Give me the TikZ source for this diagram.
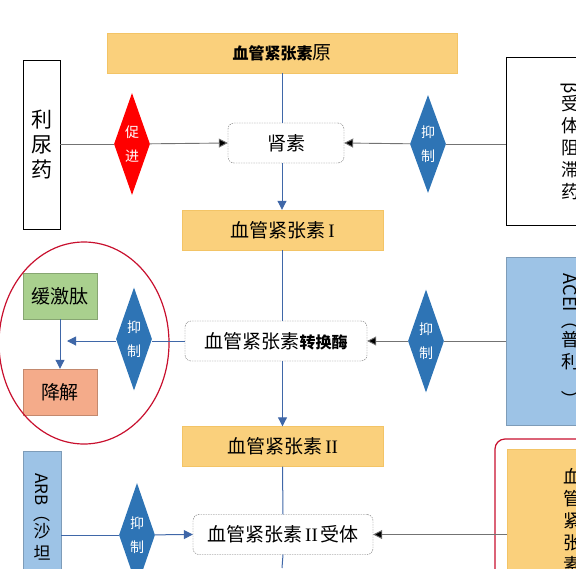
\documentclass[tikz,border=0pt]{standalone}
\usepackage{fontspec}
\setmainfont{Noto Sans CJK SC}
\newfontfamily\numfont{Liberation Serif}
\usetikzlibrary{shapes.geometric,arrows.meta}

\definecolor{boxorange}{HTML}{FAD07C}
\definecolor{edgeorange}{HTML}{F3C466}
\definecolor{drugblue}{HTML}{9DC3E6}
\definecolor{kingreen}{HTML}{A9D08E}
\definecolor{degsalmon}{HTML}{F4AB8A}
\definecolor{inhblue}{HTML}{2E74B5}
\definecolor{flowblue}{HTML}{3F67A8}
\definecolor{ringred}{HTML}{C8102E}

\begin{document}
\begin{tikzpicture}[x=1pt, y=-1pt,
    stage/.style={draw=edgeorange, fill=boxorange, minimum height=40pt, inner sep=0pt, font=\fontsize{19}{23}\selectfont},
    target/.style={draw=gray!85!black, fill=white, dash pattern=on 1.5pt off 1pt, rounded corners=6pt, minimum height=40pt, inner sep=0pt, font=\fontsize{19}{23}\selectfont},
    drug/.style={draw=black, thick, fill=white, inner sep=0pt, align=center, font=\fontsize{21}{25}\selectfont},
    druginh/.style={draw=drugblue!80!black, fill=drugblue, inner sep=0pt, align=center, font=\fontsize{18}{22}\selectfont},
    act/.style={diamond, shape aspect=0.35, inner sep=0pt, minimum width=36pt, minimum height=102pt, align=center, text=white, font=\fontsize{14}{24}\selectfont},
    side/.style={draw=#1!80!black, fill=#1, minimum width=74pt, minimum height=46pt, inner sep=0pt, font=\fontsize{19}{23}\selectfont},
    grayline/.style={draw=gray!90!black, line width=0.9pt},
    blueline/.style={draw=flowblue, line width=1pt},
    bluetip/.style={-{Triangle[length=9pt,width=9pt,color=flowblue]}}
  ]
  % --- 0. Frame ---
  \useasboundingbox (0,0) rectangle (576,568);
  \clip (0,0) rectangle (576,568);

  % --- 1. Main cascade ---
  \node[stage, minimum width=350pt] (precursor) at (282,53) {{\fontsize{16}{20}\selectfont\bfseries 血管紧张素}原};
  \node[target, minimum width=116pt] (renin) at (286,143) {肾素};
  \node[stage, minimum width=201pt] (angI) at (282.5,230) {血管紧张素\,{\numfont I}};
  \node[target, minimum width=182pt] (ace) at (276,341) {血管紧张素{\fontsize{16}{20}\selectfont\bfseries 转换酶}};
  \node[stage, minimum width=201pt] (angII) at (282.5,446.5) {血管紧张素\,{\numfont II}};
  \node[target, minimum width=180pt] (receptor) at (283,534.5) {血管紧张素\,{\numfont II}\,受体};
  \coordinate (flowend) at (282,568);

  \draw[blueline] (precursor.south) -- (precursor.south |- renin.north);
  \draw[blueline, bluetip] (precursor.south |- renin.south) -- (precursor.south |- angI.north);
  \draw[blueline] (angI.south) -- (angI.south |- ace.north);
  \draw[blueline, bluetip] (angI.south |- ace.south) -- (angII.north);
  \draw[blueline] (angII.south) -- (receptor.north);
  \draw[blueline] (receptor.south) -- (flowend);

  % --- 2. Renin row ---
  \node[drug, minimum width=37pt, minimum height=169pt] (diuretic) at (41.5,144.5) {利\\尿\\药};
  \node[act, fill=red] (promote) at (132,144) {促\\进};
  \node[drug, minimum width=128pt, minimum height=168pt, font=\fontsize{18}{22}\selectfont] (betablk) at (570,141) {\rotatebox{-90}{β}\\受\\体\\阻\\滞\\药};
  \node[act, fill=inhblue, minimum height=98pt] (reninInh) at (428,144) {抑\\制};

  \draw[grayline] (diuretic.east |- promote) -- (promote);
  \draw[grayline, -{Triangle[length=9pt,width=9pt,fill=black]}] (promote) -- (renin.west);
  \draw[grayline] (betablk.west |- reninInh) -- (reninInh);
  \draw[grayline, -{Triangle[length=9pt,width=9pt,fill=black]}] (reninInh) -- (renin.east);

  % --- 3. ACE row ---
  \node[druginh, minimum width=128pt, minimum height=168pt] (acei) at (570,341) {\rotatebox{-90}{ACEI（}\\普\\利\\\rotatebox{-90}{）}};
  \node[act, fill=inhblue, minimum height=103pt] (aceInh) at (426,341) {抑\\制};
  \node[act, fill=inhblue, minimum height=103pt] (kinInh) at (134,339) {抑\\制};
  \node[side=kingreen] (bradykinin) at (60,296) {缓激肽};
  \node[side=degsalmon] (degrade) at (60,392) {降解};
  \coordinate (kinend) at (67,341);
  \draw[ringred, line width=1.2pt] (84,343) ellipse (85pt and 101pt);

  \draw[grayline] (acei.west |- aceInh) -- (aceInh);
  \draw[grayline, -{Triangle[length=9pt,width=9pt,fill=black]}] (aceInh) -- (ace.east);
  \draw[blueline] (ace.west) -- (kinInh.east |- ace.west);
  \draw[blueline, bluetip] (kinInh.west |- ace.west) -- (kinend);
  \draw[blueline, bluetip] (bradykinin.south) -- (degrade.north);

  % --- 4. Receptor row ---
  \node[druginh, minimum width=38pt, minimum height=170pt, font=\fontsize{17}{22}\selectfont] (arb) at (42,536) {\rotatebox{-90}{ARB（}\\沙\\坦\\\rotatebox{-90}{）}};
  \node[act, fill=inhblue, minimum height=104pt] (arbInh) at (137,535) {抑\\制};
  \node[draw=ringred, line width=1.2pt, rounded corners=10pt, minimum width=160pt, minimum height=200pt] (arniframe) at (575,539) {};
  \node[stage, minimum width=130pt, minimum height=144pt, align=center, font=\fontsize{18}{22}\selectfont] (arnibox) at (572,521) {血\\管\\紧\\张\\素};

  \draw[blueline] (arb.east |- arbInh) -- (arbInh);
  \draw[blueline, bluetip] (arbInh) -- (receptor.west);
  \draw[grayline, -{Triangle[length=9pt,width=9pt,fill=black]}] (arnibox.west |- receptor.east) -- (receptor.east);
\end{tikzpicture}
\end{document}
